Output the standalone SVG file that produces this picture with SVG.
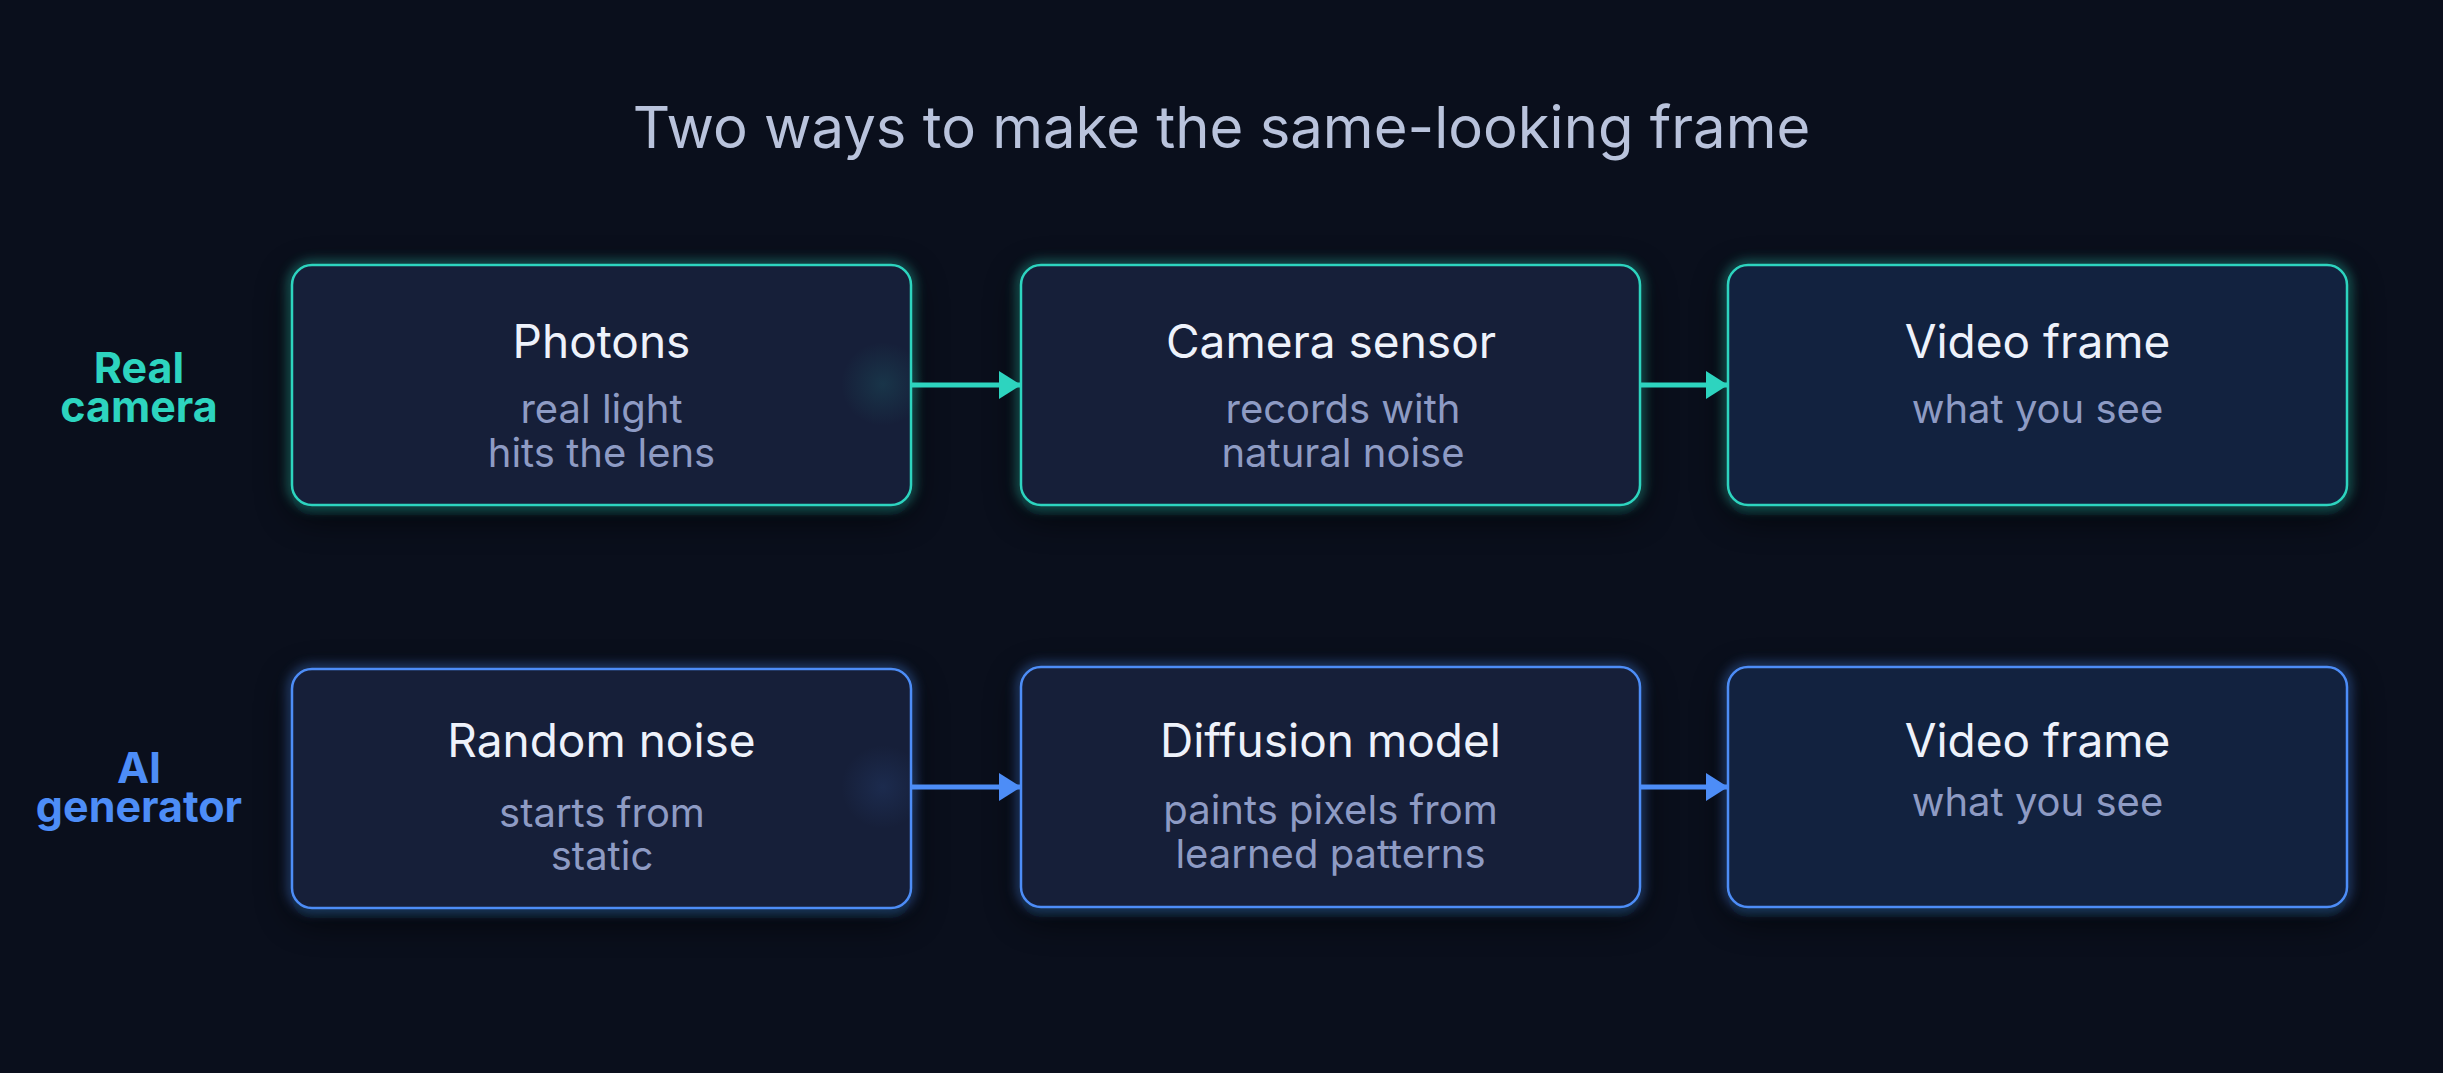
<svg xmlns="http://www.w3.org/2000/svg" width="2443" height="1073" viewBox="0 0 2443 1073">
  <defs>
    <style>
      .title { font-family: Inter, "Noto Sans", "Liberation Sans", sans-serif; font-size: 58px; fill: #b9c3dc; text-anchor: middle; }
      .lane { font-family: Inter, "Noto Sans", "Liberation Sans", sans-serif; font-size: 43px; font-weight: 700; text-anchor: middle; }
      .lane.teal { fill: #2dd4bf; }
      .lane.blue { fill: #4d8df7; }
      .nt { font-family: Inter, "Noto Sans", "Liberation Sans", sans-serif; font-size: 46px; fill: #eef2fb; text-anchor: middle; }
      .ns { font-family: Inter, "Noto Sans", "Liberation Sans", sans-serif; font-size: 40px; fill: #8e9bc4; text-anchor: middle; }
      .box { fill: #161f39; stroke-width: 2.5; }
      .box.end { fill: #12223f; }
      .teal .box { stroke: #2dd4bf; }
      .blue .box { stroke: #4d8df7; }
      .glow { fill: none; stroke-width: 7; opacity: 0.55; filter: url(#blur); }
      .teal .glow { stroke: #2dd4bf; }
      .blue .glow { stroke: #4d8df7; }
      .shadow { fill: #05080f; opacity: 0.8; filter: url(#shadowBlur); }
      .edge { stroke-width: 5; fill: none; }
      .edge.teal { stroke: #2dd4bf; marker-end: url(#headTeal); }
      .edge.blue { stroke: #4d8df7; marker-end: url(#headBlue); }
    </style>
    <filter id="blur" x="-10%" y="-20%" width="120%" height="140%">
      <feGaussianBlur stdDeviation="6"/>
    </filter>
    <filter id="shadowBlur" x="-20%" y="-40%" width="140%" height="180%">
      <feGaussianBlur stdDeviation="18"/>
    </filter>
    <marker id="headTeal" markerUnits="userSpaceOnUse" markerWidth="22" markerHeight="28" refX="22" refY="14" orient="auto">
      <path d="M0,0 L22,14 L0,28 Z" fill="#2dd4bf"/>
    </marker>
    <marker id="headBlue" markerUnits="userSpaceOnUse" markerWidth="22" markerHeight="28" refX="22" refY="14" orient="auto">
      <path d="M0,0 L22,14 L0,28 Z" fill="#4d8df7"/>
    </marker>
    <radialGradient id="dotTeal">
      <stop offset="0" stop-color="#2dd4bf" stop-opacity="0.12"/>
      <stop offset="1" stop-color="#2dd4bf" stop-opacity="0"/>
    </radialGradient>
    <radialGradient id="dotBlue">
      <stop offset="0" stop-color="#4d8df7" stop-opacity="0.11"/>
      <stop offset="1" stop-color="#4d8df7" stop-opacity="0"/>
    </radialGradient>
  </defs>

  <rect x="0" y="0" width="2443" height="1073" fill="#0a0f1c"/>

  <text class="title" x="1221.5" y="148">Two ways to make the same-looking frame</text>

  <g id="lane-real">
    <text class="lane teal" x="139" y="383">Real</text>
    <text class="lane teal" x="139" y="422">camera</text>
  </g>
  <g id="lane-ai">
    <text class="lane blue" x="139" y="783">AI</text>
    <text class="lane blue" x="139" y="822">generator</text>
  </g>

  <g id="shadows">
    <rect class="shadow" x="292" y="275" width="619" height="240" rx="20"/>
    <rect class="shadow" x="1021" y="275" width="619" height="240" rx="20"/>
    <rect class="shadow" x="1728" y="275" width="619" height="240" rx="20"/>
    <rect class="shadow" x="292" y="679" width="619" height="239" rx="20"/>
    <rect class="shadow" x="1021" y="677" width="619" height="240" rx="20"/>
    <rect class="shadow" x="1728" y="677" width="619" height="240" rx="20"/>
  </g>

  <g id="photons" class="teal">
    <rect class="glow" x="292" y="265" width="619" height="240" rx="20"/>
    <rect class="box" x="292" y="265" width="619" height="240" rx="20"/>
    <text class="nt" x="601.5" y="358">Photons</text>
    <text class="ns" x="601.5" y="423">real light</text>
    <text class="ns" x="601.5" y="467">hits the lens</text>
  </g>

  <g id="camera-sensor" class="teal">
    <rect class="glow" x="1021" y="265" width="619" height="240" rx="20"/>
    <rect class="box" x="1021" y="265" width="619" height="240" rx="20"/>
    <text class="nt" x="1331" y="358">Camera sensor</text>
    <text class="ns" x="1343" y="423">records with</text>
    <text class="ns" x="1343" y="467">natural noise</text>
  </g>

  <g id="video-frame-real" class="teal">
    <rect class="glow" x="1728" y="265" width="619" height="240" rx="20"/>
    <rect class="box end" x="1728" y="265" width="619" height="240" rx="20"/>
    <text class="nt" x="2037.5" y="358">Video frame</text>
    <text class="ns" x="2037.5" y="423">what you see</text>
  </g>

  <g id="random-noise" class="blue">
    <rect class="glow" x="292" y="669" width="619" height="239" rx="20"/>
    <rect class="box" x="292" y="669" width="619" height="239" rx="20"/>
    <text class="nt" x="601.5" y="757">Random noise</text>
    <text class="ns" x="602" y="827">starts from</text>
    <text class="ns" x="602" y="870">static</text>
  </g>

  <g id="diffusion-model" class="blue">
    <rect class="glow" x="1021" y="667" width="619" height="240" rx="20"/>
    <rect class="box" x="1021" y="667" width="619" height="240" rx="20"/>
    <text class="nt" x="1330.5" y="757">Diffusion model</text>
    <text class="ns" x="1330.5" y="824">paints pixels from</text>
    <text class="ns" x="1330.5" y="868">learned patterns</text>
  </g>

  <g id="video-frame-ai" class="blue">
    <rect class="glow" x="1728" y="667" width="619" height="240" rx="20"/>
    <rect class="box end" x="1728" y="667" width="619" height="240" rx="20"/>
    <text class="nt" x="2037.5" y="757">Video frame</text>
    <text class="ns" x="2037.5" y="816">what you see</text>
  </g>

  <g id="connectors">
    <circle cx="883" cy="384" r="42" fill="url(#dotTeal)"/>
    <circle cx="883" cy="787" r="42" fill="url(#dotBlue)"/>
    <line class="edge teal" x1="912" y1="385" x2="1021" y2="385"/>
    <line class="edge teal" x1="1641" y1="385" x2="1728" y2="385"/>
    <line class="edge blue" x1="912" y1="787" x2="1021" y2="787"/>
    <line class="edge blue" x1="1641" y1="787" x2="1728" y2="787"/>
  </g>
</svg>
